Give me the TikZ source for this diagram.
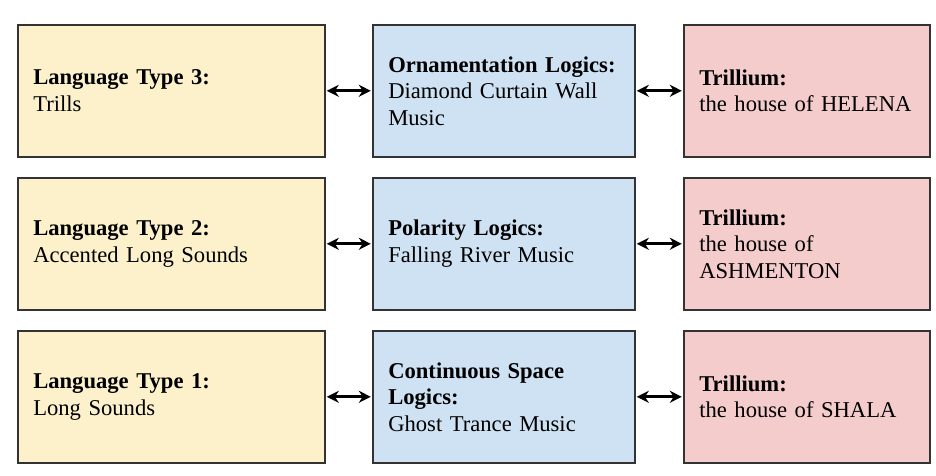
\documentclass[tikz,border=0pt]{standalone}
\usepackage{fontspec}
\setmainfont{Liberation Serif}
\usetikzlibrary{arrows.meta}
\definecolor{cyel}{HTML}{FDF1CC}
\definecolor{cblu}{HTML}{CFE2F3}
\definecolor{cpnk}{HTML}{F4CCCC}
\definecolor{cbrd}{HTML}{333333}
\tikzset{
  x=1pt,y=1pt,
  box/.style={draw=cbrd, line width=1.6pt, minimum height=132pt, inner xsep=15.5pt, inner ysep=0pt,
    align=left, font=\fontsize{22.6}{26.5}\selectfont, anchor=north west},
  lbox/.style={box, fill=cyel, text width=276pt},
  mbox/.style={box, fill=cblu, text width=231pt},
  rbox/.style={box, fill=cpnk, text width=215pt},
  conn/.style={line width=2.6pt, {Stealth[length=12pt,width=12pt]}-{Stealth[length=12pt,width=12pt]}, shorten <=1.2pt, shorten >=1.2pt}
}
\begin{document}
\begin{tikzpicture}
\useasboundingbox[fill=white] (0,0) rectangle (936,476);
% row 1
\node[lbox] (l3) at (17,452) {\textbf{Language Type 3:}\\Trills};
\node[mbox] (m3) at (372,452) {\textbf{Ornamentation Logics:}\\Diamond Curtain Wall\\Music};
\node[rbox] (r3) at (683,452) {\textbf{Trillium:}\\the house of HELENA};
% row 2
\node[lbox] (l2) at (17,299) {\textbf{Language Type 2:}\\Accented Long Sounds};
\node[mbox] (m2) at (372,299) {\textbf{Polarity Logics:}\\Falling River Music};
\node[rbox] (r2) at (683,299) {\textbf{Trillium:}\\the house of\\ASHMENTON};
% row 3
\node[lbox] (l1) at (17,146) {\textbf{Language Type 1:}\\Long Sounds};
\node[mbox] (m1) at (372,146) {\textbf{Continuous Space}\\\textbf{Logics:}\\Ghost Trance Music};
\node[rbox] (r1) at (683,146) {\textbf{Trillium:}\\the house of SHALA};
% connectors
\draw[conn] (l3.east) -- (m3.west);
\draw[conn] (m3.east) -- (r3.west);
\draw[conn] (l2.east) -- (m2.west);
\draw[conn] (m2.east) -- (r2.west);
\draw[conn] (l1.east) -- (m1.west);
\draw[conn] (m1.east) -- (r1.west);
\end{tikzpicture}
\end{document}
